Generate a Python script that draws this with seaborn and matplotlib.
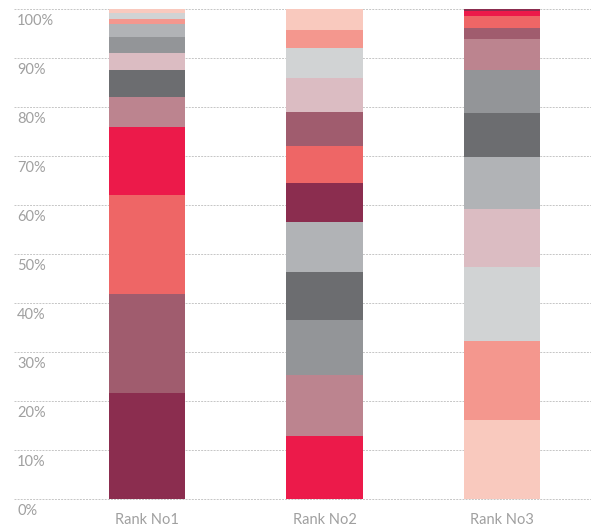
import numpy as np
import pandas as pd
import matplotlib
matplotlib.use("Agg")
import matplotlib.pyplot as plt
import seaborn as sns

ranks = ["Rank No1", "Rank No2", "Rank No3"]
ytick_values = [0, 10, 20, 30, 40, 50, 60, 70, 80, 90, 100]
ytick_labels = ["0%", "10%", "20%", "30%", "40%", "50%", "60%", "70%", "80%", "90%", "100%"]

palette = {
    "A": "#8B2D4F", "B": "#A05C6E", "C": "#EE6666", "D": "#EC1A4A",
    "E": "#BC848F", "F": "#6C6D70", "G": "#DBBCC2", "H": "#939598",
    "I": "#B1B3B6", "J": "#F4978E", "K": "#D1D3D4", "L": "#F9C9BE",
}

# stacking order (bottom to top) and values per rank
rank1_order = ["A", "B", "C", "D", "E", "F", "G", "H", "I", "J", "K", "L"]
rank1_values = [21.7, 20.2, 20.2, 13.9, 6.1, 5.5, 3.5, 3.3, 2.6, 1.0, 1.25, 0.75]
rank2_order = ["D", "E", "H", "F", "I", "A", "C", "B", "G", "K", "J", "L"]
rank2_values = [12.9, 12.5, 11.2, 9.8, 10.2, 8.0, 7.5, 6.9, 7.0, 6.1, 3.7, 4.2]
rank3_order = ["L", "J", "K", "G", "I", "F", "H", "E", "B", "C", "D", "A"]
rank3_values = [16.2, 16.1, 15.1, 11.8, 10.7, 8.9, 8.9, 6.3, 2.2, 2.4, 1.0, 0.4]

rows = []
for i, (order, vals) in enumerate([(rank1_order, rank1_values),
                                   (rank2_order, rank2_values),
                                   (rank3_order, rank3_values)]):
    bottoms = np.concatenate([[0], np.cumsum(vals)[:-1]])
    for seg, v, b in zip(order, vals, bottoms):
        rows.append({"rank": ranks[i], "pos": i, "segment": seg, "value": v, "bottom": b})
df = pd.DataFrame(rows)

sns.set_theme(style="white")
plt.rcParams["font.family"] = ["Lato", "DejaVu Sans"]

W, H = 591, 527
fig = plt.figure(figsize=(W / 100, H / 100), dpi=100)
ax_left = 14 / W
ax_bottom = (H - 499.3) / H
ax_height = 490 / H * (100.6 / 100)
ax = fig.add_axes([ax_left, ax_bottom, 1 - ax_left, ax_height])

text_color = "#A0A0A0"

for y in ytick_values:
    ax.axhline(y, color="#C6C6C6", lw=0.7, ls=(0, (2.0, 1.2)), zorder=0, clip_on=False)
    ax.annotate(ytick_labels[ytick_values.index(y)], xy=(3 / (W - 14), y),
                xycoords=ax.get_yaxis_transform(), xytext=(0, -3.5), textcoords="offset points",
                ha="left", va="top", fontsize=10.5, color=text_color, fontweight="normal",
                annotation_clip=False)

for _, r in df.iterrows():
    ax.bar(r["pos"], r["value"], bottom=r["bottom"], width=0.43,
           color=palette[r["segment"]], edgecolor="none", linewidth=0, zorder=2)

centers_px = [147, 324, 502]
x0 = -(centers_px[0] - 14) / 177.5
x1 = 2 + (W - centers_px[2]) / 177.5
ax.set_xlim(x0, x1)
ax.set_ylim(0, 100.6)

for i, lab in enumerate(ranks):
    ax.annotate(lab, xy=(i, 0), xycoords="data", xytext=(0, -10), textcoords="offset points",
                ha="center", va="top", fontsize=10.5, color=text_color, fontweight="normal",
                annotation_clip=False)

ax.set_xticks([])
ax.set_yticks([])
for s in ax.spines.values():
    s.set_visible(False)
ax.patch.set_alpha(0)

fig.savefig("out.png", dpi=100)
